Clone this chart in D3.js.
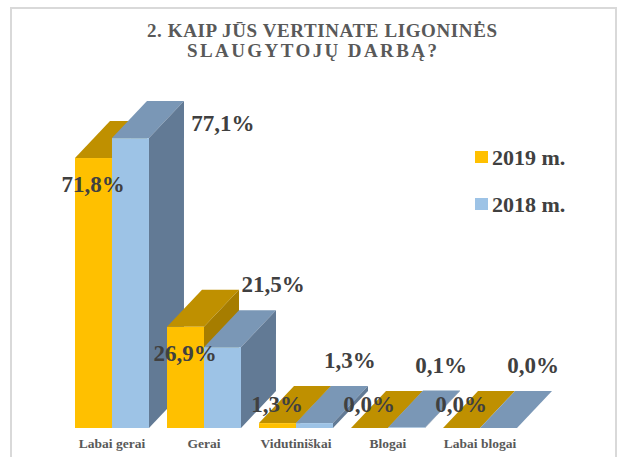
<!DOCTYPE html>
<html>
<head>
<meta charset="utf-8">
<script src="https://cdn.jsdelivr.net/npm/d3@7"></script>
<style>
  body { margin: 0; background: #fff; }
  svg { display: block; }
  text { font-family: 'Liberation Serif', 'DejaVu Serif', 'Times New Roman', serif; }
</style>
</head>
<body>
<svg width="620" height="457"></svg>
<script>
// chart data
const categories = ['Labai gerai', 'Gerai', 'Vidutiniškai', 'Blogai', 'Labai blogai'];
const seriesNames = ['2019 m.', '2018 m.'];
const values2019 = [71.8, 26.9, 1.3, 0.0, 0.0];
const values2018 = [77.1, 21.5, 1.3, 0.1, 0.0];
const titleLines = ['2. KAIP JŪS VERTINATE LIGONINĖS', 'SLAUGYTOJŲ DARBĄ?'];

const svg = d3.select('svg');
const serif = 'Liberation Serif';

// outer frame
svg.append('rect')
    .attr('x', 11).attr('y', 8)
    .attr('width', 605).attr('height', 470)
    .attr('fill', 'none')
    .attr('stroke', '#d9d9d9')
    .attr('stroke-width', 2);

// title
svg.append('text')
    .attr('x', 322).attr('y', 37)
    .attr('text-anchor', 'middle')
    .attr('font-family', serif)
    .attr('font-size', 19).attr('font-weight', 'bold')
    .attr('fill', '#595959')
    .attr('textLength', 350).attr('lengthAdjust', 'spacing')
    .text(titleLines[0]);
svg.append('text')
    .attr('x', 312).attr('y', 57)
    .attr('text-anchor', 'middle')
    .attr('font-family', serif)
    .attr('font-size', 19).attr('font-weight', 'bold')
    .attr('fill', '#595959')
    .attr('textLength', 250).attr('lengthAdjust', 'spacing')
    .text(titleLines[1]);

// scales
const base = 428;
const x = d3.scaleBand().domain(categories).range([75, 517]).paddingInner(0.196);
const xs = d3.scaleBand().domain(seriesNames).range([0, x.bandwidth()]);
const y = d3.scaleLinear().domain([0, 100]).range([base, 52]);

// 3d depth offset
const dx = 35, dy = 37;

const colors = {
    '2019 m.': { front: '#ffc000', top: '#bf9000', side: '#a67d00' },
    '2018 m.': { front: '#9dc3e6', top: '#7a97b6', side: '#627a95' }
};

const series = [values2019, values2018];

const bars = svg.append('g');
categories.forEach((cat, i) => {
    seriesNames.forEach((s, j) => {
        const v = series[j][i];
        const x0 = x(cat) + xs(s);
        const x1 = x0 + xs.bandwidth();
        const yt = y(v);
        const c = colors[s];
        // top
        bars.append('path')
            .attr('d', `M${x0},${yt}L${x1},${yt}L${x1 + dx},${yt - dy}L${x0 + dx},${yt - dy}Z`)
            .attr('fill', c.top);
        // side
        bars.append('path')
            .attr('d', `M${x1},${yt}L${x1 + dx},${yt - dy}L${x1 + dx},${base - dy}L${x1},${base}Z`)
            .attr('fill', c.side);
        // front
        bars.append('rect')
            .attr('x', x0).attr('y', yt)
            .attr('width', xs.bandwidth()).attr('height', base - yt)
            .attr('fill', c.front);
    });
});

// data labels, placed roughly where the original chart had them
const fmt = v => v.toFixed(1).replace('.', ',') + '%';
const labels = svg.append('g')
    .attr('font-family', serif)
    .attr('font-size', 23).attr('font-weight', 'bold')
    .attr('fill', '#404040').attr('text-anchor', 'middle');

categories.forEach((cat, i) => {
    const v1 = values2019[i];
    const x1 = x(cat) + xs(seriesNames[0]);
    labels.append('text')
        .attr('x', x1 + 18)
        .attr('y', Math.min(y(v1) + 26, base - 24))
        .attr('dy', '0.35em')
        .text(fmt(v1));

    const v2 = values2018[i];
    const x2 = x(cat) + xs(seriesNames[1]);
    labels.append('text')
        .attr('x', x2 + 53 + 0.2 * (base - y(v2)))
        .attr('y', Math.max(y(v2) - 63, 123))
        .attr('dy', '0.35em')
        .text(fmt(v2));
});

// category labels
svg.append('g')
    .selectAll('text')
    .data(categories)
    .join('text')
    .attr('x', d => x(d) + x.bandwidth() / 2)
    .attr('y', 448)
    .attr('text-anchor', 'middle')
    .attr('font-family', serif)
    .attr('font-size', 13.5).attr('font-weight', 'bold')
    .attr('fill', '#595959')
    .text(d => d);

// legend
const legend = svg.append('g');
seriesNames.forEach((s, j) => {
    const ly = 151 + j * 47;
    legend.append('rect')
        .attr('x', 475).attr('y', ly)
        .attr('width', 13).attr('height', 12)
        .attr('fill', colors[s].front);
    legend.append('text')
        .attr('x', 492).attr('y', ly + 6)
        .attr('dy', '0.35em')
        .attr('font-family', serif)
        .attr('font-size', 22).attr('font-weight', 'bold')
        .attr('fill', '#404040')
        .text(s);
});
</script>
</body>
</html>
